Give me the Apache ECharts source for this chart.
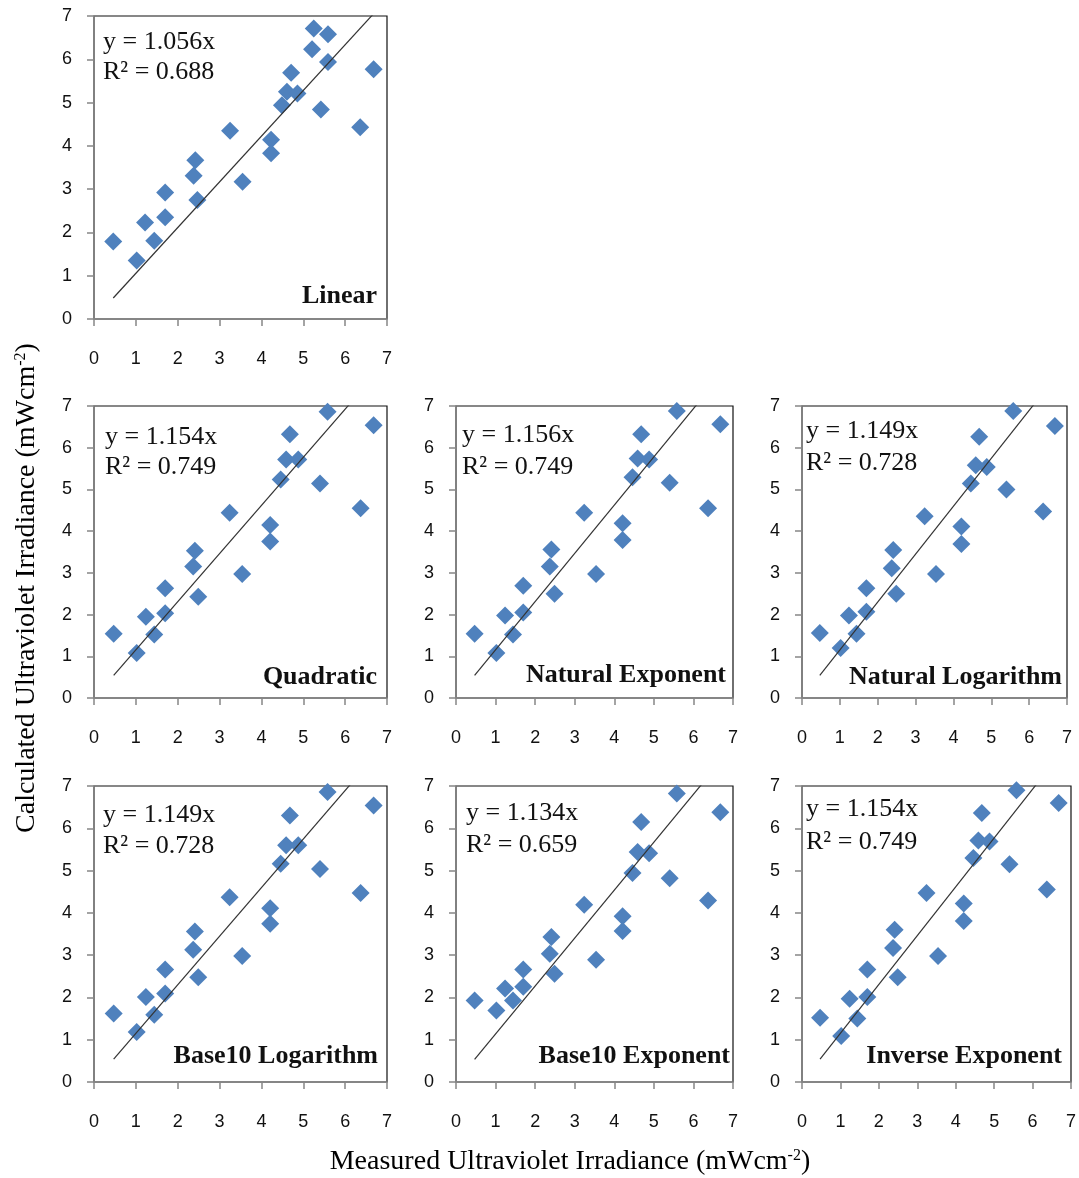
<!DOCTYPE html>
<html>
<head>
<meta charset="utf-8">
<script src="https://cdn.jsdelivr.net/npm/echarts@6/dist/echarts.min.js"></script>
<style>
html,body{margin:0;padding:0;background:#fff;}
#chart{width:1079px;height:1178px;}
</style>
</head>
<body>
<div id="chart"></div>
<script>
// ---------- data ----------
const panelNames = ['Linear', 'Quadratic', 'Natural Exponent', 'Natural Logarithm', 'Base10 Logarithm', 'Base10 Exponent', 'Inverse Exponent'];
const slopes = [1.056, 1.154, 1.156, 1.149, 1.149, 1.134, 1.154];
const r2Values = ['0.688', '0.749', '0.749', '0.728', '0.728', '0.659', '0.749'];
const axisTicks = [0, 1, 2, 3, 4, 5, 6, 7];

const linearX = [0.46, 1.02, 1.22, 1.44, 1.70, 1.70, 2.38, 2.42, 2.47, 3.25, 3.55, 4.23, 4.23, 4.49, 4.61, 4.71, 4.86, 5.25, 5.21, 5.59, 5.59, 5.42, 6.36, 6.68];
const linearY = [1.79, 1.35, 2.23, 1.81, 2.92, 2.35, 3.31, 3.67, 2.75, 4.35, 3.17, 4.14, 3.83, 4.94, 5.25, 5.69, 5.21, 6.71, 6.23, 6.58, 5.94, 4.84, 4.43, 5.77];

const measuredX = [0.47, 1.02, 1.24, 1.44, 1.70, 1.70, 2.37, 2.41, 2.49, 3.24, 3.54, 4.21, 4.21, 4.46, 4.59, 4.68, 4.88, 5.58, 5.40, 6.37, 6.68];
const quadraticY = [1.54, 1.08, 1.95, 1.52, 2.63, 2.03, 3.15, 3.53, 2.43, 4.44, 2.97, 4.15, 3.75, 5.24, 5.72, 6.32, 5.72, 6.86, 5.14, 4.55, 6.54];
const naturalExpY = [1.54, 1.08, 1.98, 1.52, 2.69, 2.05, 3.15, 3.56, 2.50, 4.44, 2.97, 4.19, 3.79, 5.29, 5.74, 6.32, 5.72, 6.88, 5.16, 4.55, 6.56];
const naturalLogY = [1.56, 1.20, 1.98, 1.54, 2.63, 2.07, 3.11, 3.55, 2.50, 4.36, 2.97, 4.11, 3.69, 5.14, 5.58, 6.26, 5.54, 6.88, 5.00, 4.47, 6.52];
const base10LogY = [1.62, 1.18, 2.01, 1.59, 2.66, 2.09, 3.13, 3.56, 2.48, 4.37, 2.98, 4.11, 3.74, 5.16, 5.60, 6.30, 5.60, 6.86, 5.04, 4.47, 6.54];
const base10ExpY = [1.93, 1.69, 2.21, 1.93, 2.66, 2.25, 3.03, 3.43, 2.56, 4.19, 2.89, 3.92, 3.57, 4.94, 5.44, 6.15, 5.41, 6.82, 4.82, 4.29, 6.38];
const inverseExpY = [1.52, 1.09, 1.97, 1.50, 2.66, 2.01, 3.17, 3.60, 2.48, 4.47, 2.98, 4.22, 3.81, 5.30, 5.71, 6.36, 5.69, 6.90, 5.15, 4.55, 6.60];

const xTitle = 'Measured Ultraviolet Irradiance (mWcm';
const yTitle = 'Calculated Ultraviolet Irradiance (mWcm';
const unitSup = '-2';

// ---------- layout ----------
const panelX = [linearX, measuredX, measuredX, measuredX, measuredX, measuredX, measuredX];
const panelY = [linearY, quadraticY, naturalExpY, naturalLogY, base10LogY, base10ExpY, inverseExpY];
const grids = [
  {left: 94, top: 16, width: 293, height: 303},
  {left: 94, top: 406, width: 293, height: 292},
  {left: 456, top: 406, width: 277, height: 292},
  {left: 802, top: 406, width: 265, height: 292},
  {left: 94, top: 786, width: 293, height: 296},
  {left: 456, top: 786, width: 277, height: 296},
  {left: 802, top: 786, width: 270, height: 296}
];
const eqPos = [[103, 42, 72], [105, 437, 467], [462, 435, 467], [806, 431, 463], [103, 815, 846], [466, 813, 845], [806, 809, 842]];
const namePos = [[377, 296], [377, 677], [726, 675], [1062, 677], [378, 1056], [730, 1056], [1062, 1056]];

const axisGrey = '#878787';
const blue = '#4F81BD';
const serif = '"Liberation Serif", "Times New Roman", serif';

const gridOpts = [], xAxes = [], yAxes = [], series = [], graphics = [];
grids.forEach((g, i) => {
  gridOpts.push(Object.assign({show: true, borderColor: '#111', borderWidth: 1.2, backgroundColor: '#fff', containLabel: false}, g));
  const axisCommon = {
    gridIndex: i, type: 'value', min: axisTicks[0], max: axisTicks[axisTicks.length - 1], interval: 1,
    splitLine: {show: false},
    axisLine: {show: true, onZero: false, lineStyle: {color: axisGrey, width: 1.5}},
    axisTick: {show: true, inside: false, length: 7, lineStyle: {color: axisGrey, width: 1.5}},
    axisLabel: {color: '#111', fontFamily: '"Liberation Sans", Arial, sans-serif', fontSize: 18}
  };
  xAxes.push(Object.assign({}, axisCommon, {axisLabel: Object.assign({}, axisCommon.axisLabel, {margin: 31})}));
  yAxes.push(Object.assign({}, axisCommon, {axisLabel: Object.assign({}, axisCommon.axisLabel, {margin: 22})}));

  const xs = panelX[i], ys = panelY[i];
  series.push({
    type: 'scatter', xAxisIndex: i, yAxisIndex: i,
    symbol: 'diamond', symbolSize: 18,
    itemStyle: {color: blue, opacity: 1},
    data: xs.map((x, k) => [x, ys[k]]),
    z: 3
  });
  const xmin = Math.min(...xs), xmax = Math.max(...xs);
  series.push({
    type: 'line', xAxisIndex: i, yAxisIndex: i, clip: true,
    showSymbol: false, symbol: 'none',
    lineStyle: {color: '#333', width: 1.2},
    data: [[xmin, slopes[i] * xmin], [xmax, slopes[i] * xmax]],
    z: 4, silent: true
  });

  graphics.push({type: 'text', x: eqPos[i][0], y: eqPos[i][1], z: 10,
    style: {text: 'y = ' + slopes[i].toFixed(3) + 'x', font: '26px ' + serif, fill: '#111', textAlign: 'left', textVerticalAlign: 'middle'}});
  graphics.push({type: 'text', x: eqPos[i][0], y: eqPos[i][2], z: 10,
    style: {text: 'R² = ' + r2Values[i], font: '26px ' + serif, fill: '#111', textAlign: 'left', textVerticalAlign: 'middle'}});
  graphics.push({type: 'text', x: namePos[i][0], y: namePos[i][1], z: 10,
    style: {text: panelNames[i], font: 'bold 26px ' + serif, fill: '#111', textAlign: 'right', textVerticalAlign: 'middle'}});
});

const titleRich = {
  a: {fontFamily: '"Liberation Serif", serif', fontSize: 28, color: '#111'},
  s: {fontFamily: '"Liberation Serif", serif', fontSize: 16, color: '#111', verticalAlign: 'top', padding: [0, 0, 13, 0]}
};
graphics.push({type: 'text', x: 570, y: 1162, z: 10,
  style: {text: '{a|' + xTitle + '}{s|' + unitSup + '}{a|)}', rich: titleRich, textAlign: 'center', textVerticalAlign: 'middle'}});
graphics.push({type: 'text', x: 27, y: 588, rotation: Math.PI / 2, z: 10,
  style: {text: '{a|' + yTitle + '}{s|' + unitSup + '}{a|)}', rich: titleRich, textAlign: 'center', textVerticalAlign: 'middle'}});

const chart = echarts.init(document.getElementById('chart'), null, {renderer: 'canvas'});
chart.setOption({
  animation: false,
  backgroundColor: '#fff',
  grid: gridOpts,
  xAxis: xAxes,
  yAxis: yAxes,
  series: series,
  graphic: graphics
});
</script>
</body>
</html>
